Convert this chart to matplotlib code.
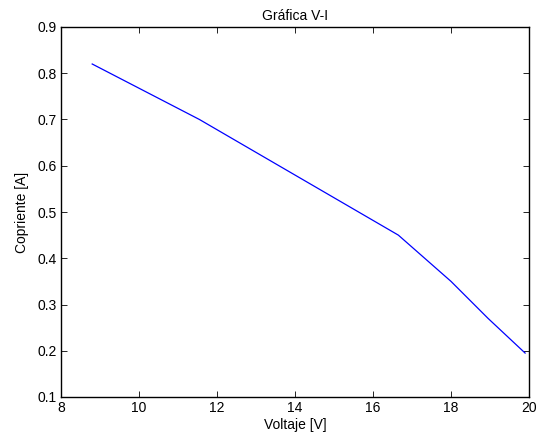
import matplotlib
matplotlib.use("Agg")
import matplotlib.pyplot as plt

voltaje = [8.8, 11.55, 16.65, 18.0, 18.95, 19.9]
corriente = [0.82, 0.70, 0.45, 0.35, 0.27, 0.195]
xticks = [8, 10, 12, 14, 16, 18, 20]
yticks = [0.1, 0.2, 0.3, 0.4, 0.5, 0.6, 0.7, 0.8, 0.9]
ytick_labels = ['0.1', '0.2', '0.3', '0.4', '0.5', '0.6', '0.7', '0.8', '0.9']

plt.rcParams['font.family'] = ['Liberation Sans', 'DejaVu Sans']
fig = plt.figure(figsize=(5.42, 4.40), dpi=100)
ax = fig.add_axes([61/542, 1-397/440, 468/542, 370/440])
ax.plot(voltaje, corriente, color='#0000ff', lw=0.9)
ax.set_xlim(8, 20)
ax.set_ylim(0.1, 0.9)
ax.set_xticks(xticks)
ax.set_yticks(yticks)
ax.set_yticklabels(ytick_labels)
ax.tick_params(direction='in', top=True, right=True, labelsize=10, length=4, width=0.6, pad=3)
for s in ax.spines.values():
    s.set_linewidth(1.0)
ax.set_xlabel('Voltaje [V]', fontsize=10, labelpad=2)
ax.set_ylabel('Copriente [A]', fontsize=10, labelpad=6)
ax.set_title('Gráfica V-I', fontsize=10, pad=5)
fig.savefig('out.png', dpi=100)
